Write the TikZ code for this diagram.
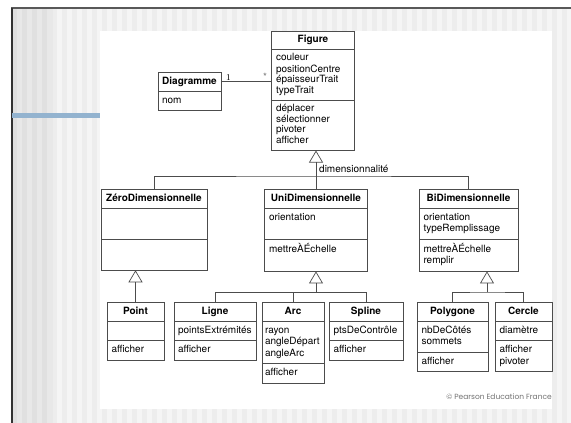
\documentclass[tikz,border=0pt]{standalone}
\usepackage{fontspec}
\setmainfont{TeX Gyre Heros}
\newfontfamily\copyfont{Poppins}
\newfontfamily\multfont{Liberation Serif}
\usetikzlibrary{shapes.multipart,arrows.meta,calc}

\definecolor{barblue}{HTML}{93B3CF}
\newcommand{\ctitle}[1]{\makebox[\linewidth][c]{\textbf{#1}\strut}}

\tikzset{
  classbox/.style={draw=black!70, fill=white, line width=0.7pt,
    rectangle split, rectangle split parts=3, anchor=north,
    inner xsep=4.5pt, inner ysep=3.5pt, align=left,
    font=\fontsize{10}{11.5}\selectfont},
  isa/.style={draw=black!70, line width=0.7pt,
    -{Triangle[open,length=12pt,width=14pt]}},
  link/.style={draw=black!70, line width=0.7pt},
}

\begin{document}
\begin{tikzpicture}[x=1pt,y=-1pt]
  \useasboundingbox (0,0) rectangle (571,423);
  % slide background
  \fill[black!4] (12,9) rectangle (571,423);
  \foreach \x in {52,62,...,562}
    \fill[black!7] (\x,9) rectangle ++(5,414);
  \fill[black!9] (12,9) rectangle (53,423);
  \foreach \x in {12,22,...,42}
    \fill[black!12] (\x,9) rectangle ++(5,414);
  \fill[white] (100,31) rectangle (552,409);
  \draw[black!65, line width=1.5pt] (11,8) -- (571,8);
  \draw[black!80, line width=1.2pt] (12,8) -- (12,423);
  \fill[barblue] (12,113) rectangle (100,118);

  % classes
  \node[classbox, text width=74pt, font=\fontsize{10}{10.5}\selectfont] (figure) at (313,31)
    {\ctitle{Figure}
     \nodepart{two}\strut couleur\\positionCentre\\épaisseurTrait\\typeTrait\strut
     \nodepart{three}\strut déplacer\\sélectionner\\pivoter\\afficher\strut};
  \node[classbox, rectangle split parts=2, inner xsep=4pt, text width=55pt] (diagramme) at (189.5,72)
    {\ctitle{Diagramme}\nodepart{two}\strut nom};

  \node[classbox, text width=97pt] (zero) at (154,189)
    {\ctitle{ZéroDimensionnelle}
     \nodepart{two}\strut\\\strut
     \nodepart{three}\strut\\\strut};
  \node[classbox, text width=94pt] (uni) at (316,189)
    {\ctitle{UniDimensionnelle}
     \nodepart{two}\strut orientation\\\strut
     \nodepart{three}\strut mettreÀÉchelle\\\strut};
  \node[classbox, text width=90pt] (bi) at (468.5,189)
    {\ctitle{BiDimensionnelle}
     \nodepart{two}\strut orientation\\typeRemplissage\strut
     \nodepart{three}\strut mettreÀÉchelle\\remplir\strut};

  \node[classbox, text width=48pt] (point) at (135.5,302)
    {\ctitle{Point}\nodepart{two}\strut\nodepart{three}\strut afficher};
  \node[classbox, inner xsep=4pt, text width=74pt] (ligne) at (215,302)
    {\ctitle{Ligne}\nodepart{two}\strut pointsExtrémités\nodepart{three}\strut afficher};
  \node[classbox, inner xsep=3pt, text width=56pt] (arc) at (293,302)
    {\ctitle{Arc}
     \nodepart{two}\strut rayon\\angleDépart\\angleArc\strut
     \nodepart{three}\strut afficher};
  \node[classbox, text width=65pt] (spline) at (366,302)
    {\ctitle{Spline}\nodepart{two}\strut ptsDeContrôle\nodepart{three}\strut afficher};
  \node[classbox, text width=62pt] (polygone) at (452.5,302)
    {\ctitle{Polygone}
     \nodepart{two}\strut nbDeCôtés\\sommets\strut
     \nodepart{three}\strut afficher};
  \node[classbox, text width=48pt] (cercle) at (523.5,302)
    {\ctitle{Cercle}
     \nodepart{two}\strut diamètre
     \nodepart{three}\strut afficher\\pivoter\strut};

  % association
  \coordinate (dg) at ($(diagramme.north east)!0.5!(diagramme.text split east)$);
  \draw[link] (dg) -- (dg -| figure.west)
    node[pos=0.14, above, inner sep=1pt, font=\multfont\small] {1}
    node[pos=0.88, above, inner sep=1pt, text=black!55] {*};

  % generalisation
  \coordinate (dimj) at (316,176);
  \draw[isa] (dimj) -- (dimj |- figure.south);
  \draw[link] (zero.north) |- (dimj) -| (bi.north);
  \draw[link] (uni.north) -- (dimj);
  \node[anchor=west, inner sep=0pt, font=\fontsize{10}{11.5}\selectfont] (dimlbl) at (319,169) {dimensionnalité};

  \draw[isa] (point.north) -- (point.north |- zero.south);

  \coordinate (unij) at (316,292);
  \draw[isa] (unij) -- (uni.south);
  \draw[link] (ligne.north) |- (unij);
  \draw[link] (arc.north) -- (arc.north |- unij);
  \draw[link] (spline.north) |- (unij);

  \coordinate (bij) at (487,292);
  \draw[isa] (bij) -- (bij |- bi.south);
  \draw[link] (polygone.north) |- (bij) -| (cercle.north);

  \node[anchor=east, inner sep=0pt, text=black!55, font=\copyfont\fontsize{7.5}{9}\selectfont] (copy) at (552,397)
    {© Pearson Education France};
\end{tikzpicture}
\end{document}
